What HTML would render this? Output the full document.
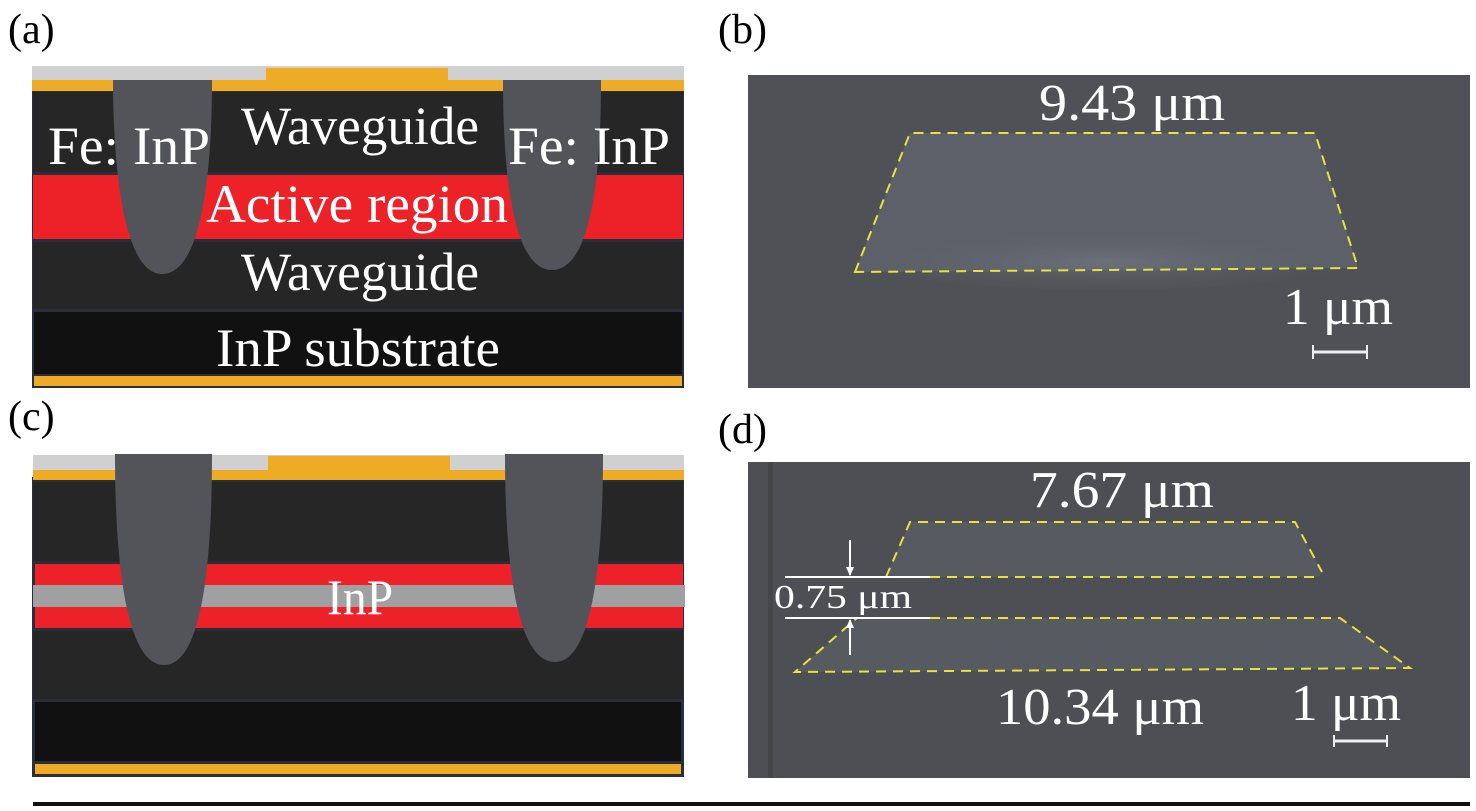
<!DOCTYPE html>
<html><head><meta charset="utf-8"><style>
html,body{margin:0;padding:0;background:#fff;}
svg{display:block;}
svg text{font-family:"Liberation Serif","Times New Roman","DejaVu Serif",serif;}
</style></head><body>
<svg width="1476" height="811" viewBox="0 0 1476 811" xmlns="http://www.w3.org/2000/svg" font-family="'Liberation Serif', 'Times New Roman', serif">
<defs>
<radialGradient id="glow1" cx="0.5" cy="0.6" r="0.5"><stop offset="0" stop-color="#7c808a" stop-opacity="0.5"/><stop offset="1" stop-color="#5a5d64" stop-opacity="0"/></radialGradient>
</defs>

<text x="8" y="43" font-size="42">(a)</text>
<text x="718" y="43" font-size="42">(b)</text>
<text x="8" y="430" font-size="42">(c)</text>
<text x="718" y="443" font-size="42">(d)</text>

<!-- Panel a -->
<g>
<rect x="32" y="88" width="652" height="300" fill="#2a2d3a"/>
<rect x="32" y="66" width="652" height="16" fill="#d0d0d0"/>
<rect x="32" y="80" width="652" height="11" fill="#eeab25"/>
<rect x="266" y="68" width="182" height="22" fill="#eeab25"/>
<rect x="33" y="92" width="650" height="80" fill="#262626"/>
<rect x="33" y="175" width="650" height="64" fill="#ec2228"/>
<rect x="33" y="242" width="650" height="67" fill="#262626"/>
<rect x="34" y="312" width="648" height="62" fill="#111"/>
<rect x="34" y="376" width="648" height="10" fill="#eeab25"/>
<path d="M113 80 H212 C212 150 206 274 162 274 C122 274 113 160 113 80 Z" fill="#535459"/>
<path d="M503 80 H601 C601 150 596 270 552 270 C510 270 503 160 503 80 Z" fill="#535459"/>
<g fill="#fff" font-size="54">
<text x="360" y="144" text-anchor="middle" textLength="238" lengthAdjust="spacingAndGlyphs">Waveguide</text>
<text x="48" y="164" textLength="162" lengthAdjust="spacingAndGlyphs">Fe: InP</text>
<text x="508" y="164" textLength="162" lengthAdjust="spacingAndGlyphs">Fe: InP</text>
<text x="357" y="222" text-anchor="middle" textLength="302" lengthAdjust="spacingAndGlyphs">Active region</text>
<text x="360" y="290" text-anchor="middle" textLength="238" lengthAdjust="spacingAndGlyphs">Waveguide</text>
<text x="358" y="366" text-anchor="middle" textLength="284" lengthAdjust="spacingAndGlyphs">InP substrate</text>
</g>
</g>

<!-- Panel c -->
<g>
<rect x="32" y="477" width="652" height="300" fill="#2a2d3a"/>
<rect x="33" y="455" width="651" height="16" fill="#d0d0d0"/>
<rect x="33" y="470" width="651" height="10" fill="#eeab25"/>
<rect x="268" y="456" width="182" height="24" fill="#eeab25"/>
<rect x="33" y="482" width="650" height="79" fill="#262626"/>
<rect x="35" y="564" width="648" height="22" fill="#ec2228"/>
<rect x="33" y="585" width="652" height="22" fill="#a09fa1"/>
<rect x="35" y="607" width="648" height="21" fill="#ec2228"/>
<rect x="33" y="631" width="650" height="68" fill="#262626"/>
<rect x="35" y="702" width="646" height="59" fill="#111"/>
<rect x="35" y="764" width="646" height="10" fill="#eeab25"/>
<path d="M115 454 H212 C212 540 206 665 164 665 C122 665 115 540 115 454 Z" fill="#535459"/>
<path d="M505 454 H603 C603 540 596 662 555 662 C512 662 505 540 505 454 Z" fill="#535459"/>
<text x="360" y="614" text-anchor="middle" fill="#fff" font-size="50" textLength="66" lengthAdjust="spacingAndGlyphs">InP</text>
</g>

<!-- Panel b -->
<g>
<rect x="748" y="75" width="722" height="313" fill="#4f5156"/>
<polygon points="855,272 910,133 1315,133 1358,268" fill="#5d6068"/>
<ellipse cx="1105" cy="255" rx="260" ry="35" fill="url(#glow1)"/>
<polygon points="855,272 910,133 1315,133 1358,268" fill="none" stroke="#e6e33a" stroke-width="2" stroke-dasharray="10,7"/>
<g fill="#fff" font-size="52">
<text x="1132" y="120" text-anchor="middle" textLength="186" lengthAdjust="spacingAndGlyphs">9.43 μm</text>
<text x="1338" y="324" text-anchor="middle" textLength="110" lengthAdjust="spacingAndGlyphs">1 μm</text>
</g>
<g stroke="#eee" stroke-width="3"><line x1="1312" y1="352" x2="1368" y2="352"/><line x1="1313" y1="345" x2="1313" y2="359" stroke-width="2"/><line x1="1367" y1="345" x2="1367" y2="359" stroke-width="2"/></g>
</g>

<!-- Panel d -->
<g>
<rect x="748" y="462" width="722" height="316" fill="#4d4f54"/>
<rect x="768" y="462" width="5" height="316" fill="#45464a"/>
<polygon points="886,577 910,522 1295,522 1322,572 1318,577" fill="#575a61"/>
<polygon points="795,672 857,618 1340,618 1410,668" fill="#575a61"/>
<g fill="none" stroke="#e6e33a" stroke-width="2" stroke-dasharray="10,7">
<polyline points="886,577 910,522 1295,522 1322,572"/>
<line x1="930" y1="577" x2="1318" y2="577"/>
<polyline points="930,618 1340,618 1410,668 795,672 857,618"/>
</g>
<g stroke="#fff" stroke-width="2">
<line x1="785" y1="577" x2="930" y2="577"/>
<line x1="785" y1="618" x2="930" y2="618"/>
<line x1="850" y1="540" x2="850" y2="575"/>
<line x1="850" y1="620" x2="850" y2="655"/>
</g>
<polygon points="846,567 854,567 850,576" fill="#fff"/>
<polygon points="846,628 854,628 850,619" fill="#fff"/>
<g fill="#fff">
<text x="1122" y="507" text-anchor="middle" font-size="52" textLength="184" lengthAdjust="spacingAndGlyphs">7.67 μm</text>
<text x="1100" y="724" text-anchor="middle" font-size="52" textLength="208" lengthAdjust="spacingAndGlyphs">10.34 μm</text>
<text x="1346" y="720" text-anchor="middle" font-size="52" textLength="110" lengthAdjust="spacingAndGlyphs">1 μm</text>
<text x="774" y="608" font-size="34" textLength="138" lengthAdjust="spacingAndGlyphs">0.75 μm</text>
</g>
<g stroke="#eee"><line x1="1333" y1="741" x2="1388" y2="741" stroke-width="3"/><line x1="1334" y1="735" x2="1334" y2="747" stroke-width="2"/><line x1="1387" y1="735" x2="1387" y2="747" stroke-width="2"/></g>
</g>

<rect x="33" y="802" width="1437" height="4" fill="#111"/>
</svg>
</body></html>
